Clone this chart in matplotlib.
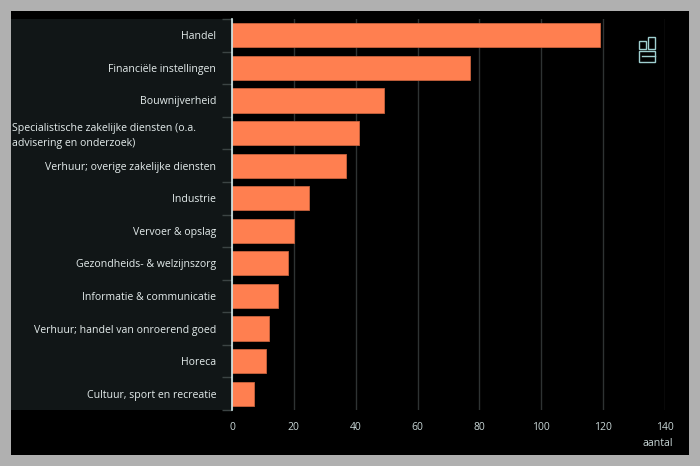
import matplotlib
matplotlib.use("Agg")
import matplotlib.pyplot as plt
from matplotlib.patches import Rectangle
from matplotlib.ticker import FixedLocator

categories = [
    "Handel",
    "Financiële instellingen",
    "Bouwnijverheid",
    "Specialistische zakelijke diensten (o.a.\nadvisering en onderzoek)",
    "Verhuur; overige zakelijke diensten",
    "Industrie",
    "Vervoer & opslag",
    "Gezondheids- & welzijnszorg",
    "Informatie & communicatie",
    "Verhuur; handel van onroerend goed",
    "Horeca",
    "Cultuur, sport en recreatie",
]
values = [119, 77, 49, 41, 37, 25, 20, 18, 15, 12, 11, 7]
xticks = [0, 20, 40, 60, 80, 100, 120, 140]
xlabel = "aantal"

W, H = 700, 466
plt.rcParams['font.family'] = ['Open Sans', 'DejaVu Sans']
fig = plt.figure(figsize=(W / 100, H / 100), dpi=100)
fig.patch.set_facecolor('#b0b0b0')

def fx(px):
    return px / W

def fy(py):
    return 1 - py / H

# black inner frame
fig.patches.append(Rectangle((fx(11), fy(455)), fx(689) - fx(11), fy(11) - fy(455),
                             transform=fig.transFigure, facecolor='black', edgecolor='none', zorder=-2))
# label panel
fig.patches.append(Rectangle((fx(11), fy(410)), fx(231) - fx(11), fy(19) - fy(410),
                             transform=fig.transFigure, facecolor='#111617', edgecolor='none', zorder=-1))

ax = fig.add_axes([fx(232), fy(410), fx(665) - fx(232), fy(19) - fy(410)])
ax.set_facecolor('none')
n = len(categories)
ypos = list(range(n))
ax.barh(ypos, values, height=0.74, color='#ff7f50', edgecolor='#c9623d', linewidth=0.6, zorder=3)
ax.set_xlim(0, 140)
ax.set_ylim(n - 0.5, -0.5)
ax.set_xticks(xticks)
ax.xaxis.grid(True, color='#2e3333', linewidth=1.0, zorder=0)
ax.set_axisbelow(True)
for s in ['top', 'right', 'bottom']:
    ax.spines[s].set_visible(False)
ax.spines['left'].set_color('#d8eeee')
ax.spines['left'].set_linewidth(1.2)
ax.spines['left'].set_zorder(5)
ax.tick_params(axis='x', length=0, pad=9, labelsize=7.5, labelcolor='#c8d6d6')

ax.set_yticks(ypos)
labels = [c if '\n' not in c else '' for c in categories]
ax.set_yticklabels(labels)
ax.tick_params(axis='y', which='major', length=0, pad=11.5, labelsize=7.6, labelcolor='#e4ecec')
ax.yaxis.set_minor_locator(FixedLocator([i - 0.5 for i in range(n + 1)]))
ax.tick_params(axis='y', which='minor', length=7, width=1, color='#3c4444')

# wrapped label, left aligned at panel edge
for i, c in enumerate(categories):
    if '\n' in c:
        fig.text(fx(12), fy(22 + (i + 0.5) * (391 / n)), c, ha='left', va='center',
                 fontsize=7.6, color='#e4ecec', linespacing=1.45)

fig.text(fx(673), fy(443), xlabel, ha='right', va='center', fontsize=7.6, color='#c8d6d6')

# cbs logo (approximation)
lc = '#9fcfd0'
def rect(x0, y0, x1, y1):
    fig.patches.append(Rectangle((fx(x0), fy(y1)), fx(x1) - fx(x0), fy(y0) - fy(y1),
                                 transform=fig.transFigure, facecolor='none', edgecolor=lc, linewidth=1.0, zorder=6))
rect(639, 41, 646, 49)
rect(648, 37, 655, 49)
rect(639, 51, 655, 62)
fig.lines.append(plt.Line2D([fx(642), fx(655)], [fy(56), fy(56)], transform=fig.transFigure, color=lc, lw=1.0))

fig.savefig('out.png', dpi=100, facecolor=fig.get_facecolor())
